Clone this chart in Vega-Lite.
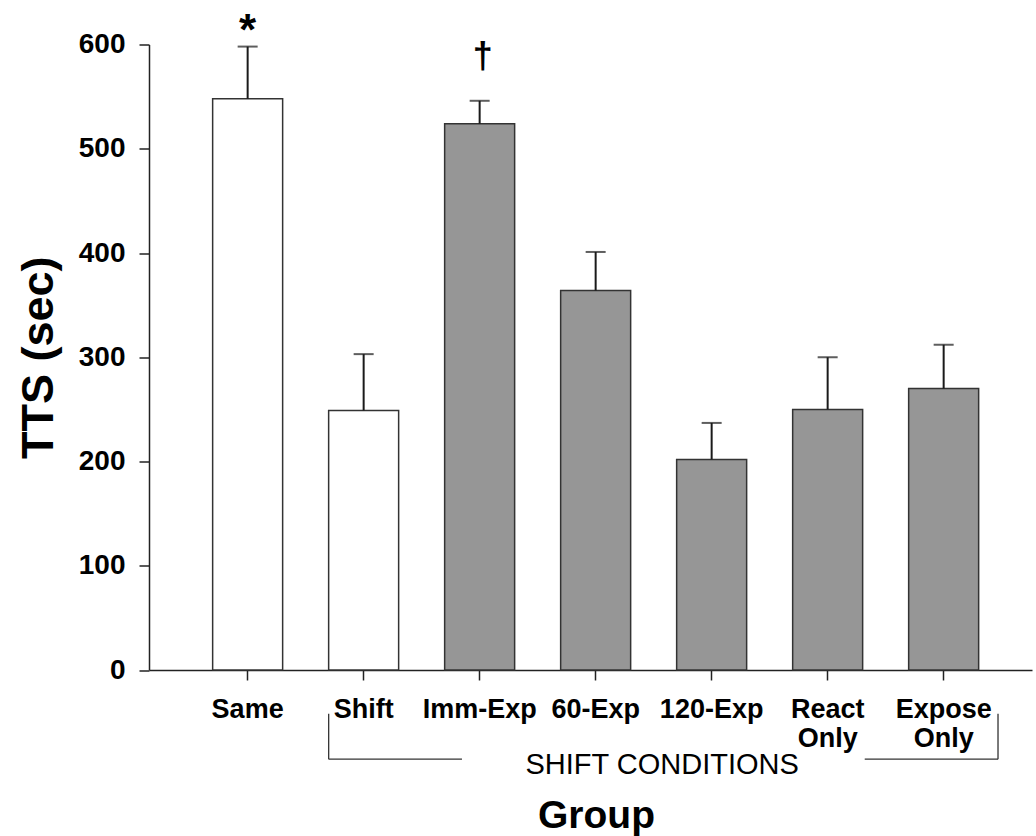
{
  "$schema": "https://vega.github.io/schema/vega-lite/v6.json",
  "width": 883,
  "height": 625.5,
  "autosize": {"type": "none"},
  "padding": {"left": 149, "top": 44.5, "right": 4, "bottom": 166},
  "background": "white",
  "config": {
    "view": {"stroke": null},
    "font": "Liberation Sans",
    "axis": {
      "domainColor": "#222222",
      "domainWidth": 1.5,
      "tickColor": "#222222",
      "tickWidth": 1.5,
      "tickSize": 10,
      "grid": false,
      "labelColor": "#000000",
      "labelFont": "Liberation Sans",
      "labelFontWeight": "bold",
      "labelFontSize": 27,
      "titleColor": "#000000",
      "titleFont": "Liberation Sans",
      "titleFontWeight": "bold"
    }
  },
  "datasets": {
    "bars": [
      {"group": "Same", "tts": 548, "upper": 598, "kind": "control", "sig": "*"},
      {"group": "Shift", "tts": 249, "upper": 303, "kind": "control", "sig": ""},
      {"group": "Imm-Exp", "tts": 524, "upper": 546, "kind": "shift", "sig": "†"},
      {"group": "60-Exp", "tts": 364, "upper": 401, "kind": "shift", "sig": ""},
      {"group": "120-Exp", "tts": 202, "upper": 237, "kind": "shift", "sig": ""},
      {"group": "React Only", "tts": 250, "upper": 300, "kind": "shift", "sig": ""},
      {"group": "Expose Only", "tts": 270, "upper": 312, "kind": "shift", "sig": ""}
    ],
    "bracket": [
      {"px": 0.698, "px2": 0.698, "py": -42, "py2": -85.5},
      {"px": 0.698, "px2": 1.847, "py": -85.5, "py2": -85.5},
      {"px": 5.319, "px2": 6.468, "py": -85.5, "py2": -85.5},
      {"px": 6.468, "px2": 6.468, "py": -42, "py2": -85.5}
    ],
    "note": [{"px": 3.573, "py": -99.8, "text": "SHIFT CONDITIONS"}]
  },
  "layer": [
    {
      "data": {"name": "bars"},
      "encoding": {
        "x": {
          "field": "group",
          "type": "nominal",
          "sort": null,
          "scale": {"paddingInner": 0.3966, "paddingOuter": 0.5043, "align": 0.544},
          "axis": {
            "title": "Group",
            "titleFontSize": 39,
            "titleBaseline": "alphabetic",
            "titleY": 157,
            "titleX": 447,
            "labelAngle": 0,
            "labelPadding": 16,
            "labelLineHeight": 29,
            "labelExpr": "split(datum.label, ' ')"
          }
        }
      },
      "layer": [
        {
          "mark": {"type": "bar", "stroke": "#333333", "strokeWidth": 1.5},
          "encoding": {
            "y": {
              "field": "tts",
              "type": "quantitative",
              "scale": {"domain": [0, 600], "nice": false, "zero": true},
              "axis": {
                "values": [0, 100, 200, 300, 400, 500, 600],
                "title": "TTS (sec)",
                "titleFontSize": 45,
                "titleAngle": -90,
                "titleBaseline": "alphabetic",
                "titleX": -97,
                "labelFontSize": 28,
                "labelPadding": 14
              }
            },
            "fill": {
              "field": "kind",
              "type": "nominal",
              "scale": {"domain": ["control", "shift"], "range": ["#ffffff", "#969696"]},
              "legend": null
            }
          }
        },
        {
          "mark": {"type": "rule", "color": "#1a1a1a", "strokeWidth": 2},
          "encoding": {
            "y": {"field": "tts", "type": "quantitative"},
            "y2": {"field": "upper"}
          }
        },
        {
          "mark": {"type": "tick", "color": "#1a1a1a", "size": 20, "thickness": 2, "orient": "horizontal"},
          "encoding": {
            "y": {"field": "upper", "type": "quantitative"}
          }
        },
        {
          "transform": [{"filter": "datum.sig == '*'"}],
          "mark": {"type": "text", "font": "Liberation Sans", "fontWeight": "bold", "fontSize": 44, "baseline": "alphabetic", "align": "center", "dy": -2, "color": "#000000"},
          "encoding": {
            "y": {"field": "upper", "type": "quantitative"},
            "text": {"field": "sig"}
          }
        },
        {
          "transform": [{"filter": "datum.sig == '†'"}],
          "mark": {"type": "text", "font": "Liberation Sans", "fontWeight": "bold", "fontSize": 36, "baseline": "alphabetic", "align": "center", "dy": -33, "dx": 3, "color": "#000000"},
          "encoding": {
            "y": {"field": "upper", "type": "quantitative"},
            "text": {"field": "sig"}
          }
        }
      ]
    },
    {
      "encoding": {
        "x": {"field": "px", "type": "quantitative", "scale": {"domain": [-0.8509, 6.761], "nice": false, "zero": false}, "axis": null}
      },
      "layer": [
        {
          "data": {"name": "bracket"},
          "mark": {"type": "rule", "color": "#333333", "strokeWidth": 1.3},
          "encoding": {
            "x2": {"field": "px2"},
            "y": {"field": "py", "type": "quantitative"},
            "y2": {"field": "py2"}
          }
        },
        {
          "data": {"name": "note"},
          "mark": {"type": "text", "font": "Liberation Sans", "fontSize": 29, "fontWeight": "normal", "baseline": "alphabetic", "align": "center", "color": "#000000"},
          "encoding": {
            "y": {"field": "py", "type": "quantitative"},
            "text": {"field": "text"}
          }
        }
      ]
    }
  ],
  "resolve": {"scale": {"x": "independent"}}
}
